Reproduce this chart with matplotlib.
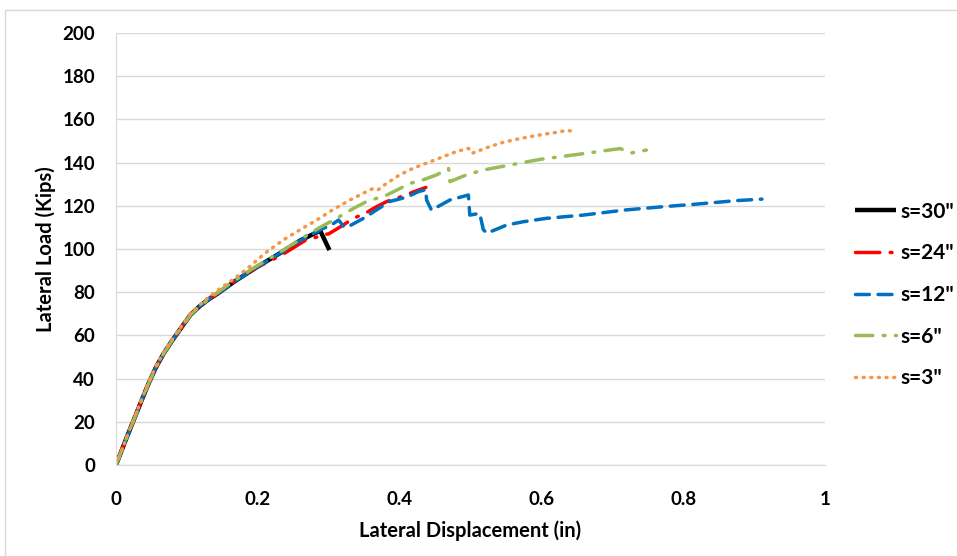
import matplotlib.pyplot as plt
from matplotlib.patches import Rectangle

# load-displacement curves
s30_x = [0, 0.006, 0.013, 0.024, 0.035, 0.045, 0.056, 0.067, 0.079, 0.093, 0.105, 0.118,
         0.131, 0.144, 0.165, 0.198, 0.231, 0.26, 0.288, 0.301]
s30_y = [0, 5, 11, 20, 29, 37, 45, 51.5, 57.5, 64, 69.5, 73.5, 76.8, 79.5, 84.5, 91.5, 98,
         104, 108.5, 99.5]

s24_x = [0, 0.006, 0.013, 0.024, 0.035, 0.045, 0.056, 0.067, 0.079, 0.093, 0.105, 0.118,
         0.131, 0.144, 0.165, 0.198, 0.215, 0.24, 0.267, 0.283, 0.29, 0.30, 0.31, 0.32,
         0.334, 0.354, 0.367, 0.382, 0.405, 0.42, 0.437]
s24_y = [0, 5, 11, 20, 29, 37, 45, 51.5, 57.5, 64, 69.5, 73.5, 76.8, 79.5, 84.5, 91.5, 94,
         98.5, 104, 105.5, 106.5, 107, 109, 111, 114, 117, 119.5, 122, 124.5, 126.5, 128.5]

s12_x = [0, 0.006, 0.013, 0.024, 0.035, 0.045, 0.056, 0.067, 0.079, 0.093, 0.105, 0.118,
         0.131, 0.144, 0.165, 0.198, 0.231, 0.26, 0.292, 0.303, 0.314, 0.322, 0.33, 0.349,
         0.367, 0.386, 0.41, 0.426, 0.437, 0.438, 0.445, 0.471, 0.497, 0.499, 0.513, 0.518,
         0.523, 0.551, 0.574, 0.607, 0.659, 0.716, 0.772, 0.819, 0.875, 0.911]
s12_y = [0, 5, 11, 20, 29, 37, 45, 51.5, 57.5, 64, 69.5, 73.5, 76.8, 79.5, 84.5, 91.5, 98,
         104, 109.5, 111, 113.4, 110, 110.8, 114.2, 118, 122, 124, 126.5, 127.5, 122.7, 118,
         122.7, 125, 115.7, 116.5, 109, 107.3, 111.1, 112.6, 114.2, 115.7, 118, 119.6,
         120.8, 122.4, 123.1]

s6_x = [0, 0.006, 0.013, 0.024, 0.035, 0.045, 0.056, 0.067, 0.079, 0.093, 0.105, 0.118,
        0.131, 0.144, 0.165, 0.198, 0.231, 0.26, 0.285, 0.311, 0.335, 0.353, 0.382, 0.415,
        0.433, 0.452, 0.469, 0.471, 0.494, 0.518, 0.556, 0.598, 0.626, 0.669, 0.711, 0.727,
        0.748]
s6_y = [0, 5, 11, 20, 29, 37, 45, 51.5, 57.5, 64, 69.5, 73.5, 76.8, 80, 85, 92, 98.5, 104.5,
        109.5, 114.2, 118.8, 121.9, 125, 130.4, 132, 134.3, 137.3, 131.2, 134.3, 136.6,
        138.9, 141.5, 142.7, 144.6, 146.5, 144.5, 145.8]

s3_x = [0, 0.006, 0.013, 0.024, 0.035, 0.045, 0.056, 0.067, 0.079, 0.093, 0.105, 0.118,
        0.131, 0.146, 0.17, 0.189, 0.21, 0.236, 0.26, 0.283, 0.305, 0.33, 0.35, 0.363, 0.37,
        0.38, 0.40, 0.42, 0.443, 0.462, 0.48, 0.497, 0.502, 0.527, 0.545, 0.565, 0.587,
        0.607, 0.625, 0.636, 0.643]
s3_y = [0, 5, 11, 20.5, 29.5, 37.5, 45.5, 52, 58, 64.5, 70, 74, 77.8, 81.5, 87, 92, 98,
        104.2, 109, 113.4, 118, 122.7, 126, 128.1, 127.5, 130, 134.3, 137.5, 140.4, 142.8,
        145.1, 146.6, 144.3, 147.4, 149.3, 150.8, 152.2, 153.3, 154.2, 155, 154.5]

series = [
    (s30_x, s30_y, 's=30"', 'black', '-'),
    (s24_x, s24_y, 's=24"', '#ff0000', (0, (7, 3, 0.5, 3))),
    (s12_x, s12_y, 's=12"', '#0070c0', (0, (4, 2.5))),
    (s6_x, s6_y, 's=6"', '#9bbb59', (0, (5, 3, 0.5, 3))),
    (s3_x, s3_y, 's=3"', '#f79646', (0, (0.3, 1.9))),
]

plt.rcParams['font.family'] = ['Lato', 'DejaVu Sans']
plt.rcParams['font.weight'] = 'bold'

fig = plt.figure(figsize=(9.57, 5.56), dpi=100)
ax = fig.add_axes([0.1212, 0.1637, 0.7409, 0.7769])

for xs, ys, lab, col, ls in series:
    lw = 3.2 if col == 'black' else 2.5
    ax.plot(xs, ys, color=col, linestyle=ls, linewidth=lw, label=lab,
            dash_capstyle='round', solid_capstyle='butt')

ax.set_xlim(0, 1)
ax.set_ylim(0, 200)
ax.set_xticks([0, 0.2, 0.4, 0.6, 0.8, 1])
ax.set_xticklabels(['0', '0.2', '0.4', '0.6', '0.8', '1'])
ax.set_yticks(range(0, 201, 20))
ax.grid(axis='y', color='#d9d9d9', linewidth=1)
ax.set_axisbelow(True)
for side in ['top', 'right']:
    ax.spines[side].set_visible(False)
for side in ['left', 'bottom']:
    ax.spines[side].set_color('#d9d9d9')
ax.tick_params(length=0, labelsize=13.5)
ax.tick_params(axis='y', pad=15)
ax.tick_params(axis='x', pad=19)

ax.set_xlabel('Lateral Displacement (in)', fontsize=14.5, fontweight='bold', labelpad=9)
ax.set_ylabel('Lateral Load (Kips)', fontsize=14.5, fontweight='bold', labelpad=5)

ax.legend(loc='center left', bbox_to_anchor=(0.8934, 0.4694), bbox_transform=fig.transFigure,
          frameon=False, fontsize=15, handlelength=1.95, handletextpad=0.25,
          labelspacing=1.04, borderpad=0, borderaxespad=0)

# outer chart border
fig.patches.append(Rectangle((5 / 957, -0.1), 1.2, (546 / 556) + 0.1, transform=fig.transFigure,
                             fill=False, edgecolor='#d9d9d9', linewidth=1))

fig.savefig('out.png', dpi=100)
